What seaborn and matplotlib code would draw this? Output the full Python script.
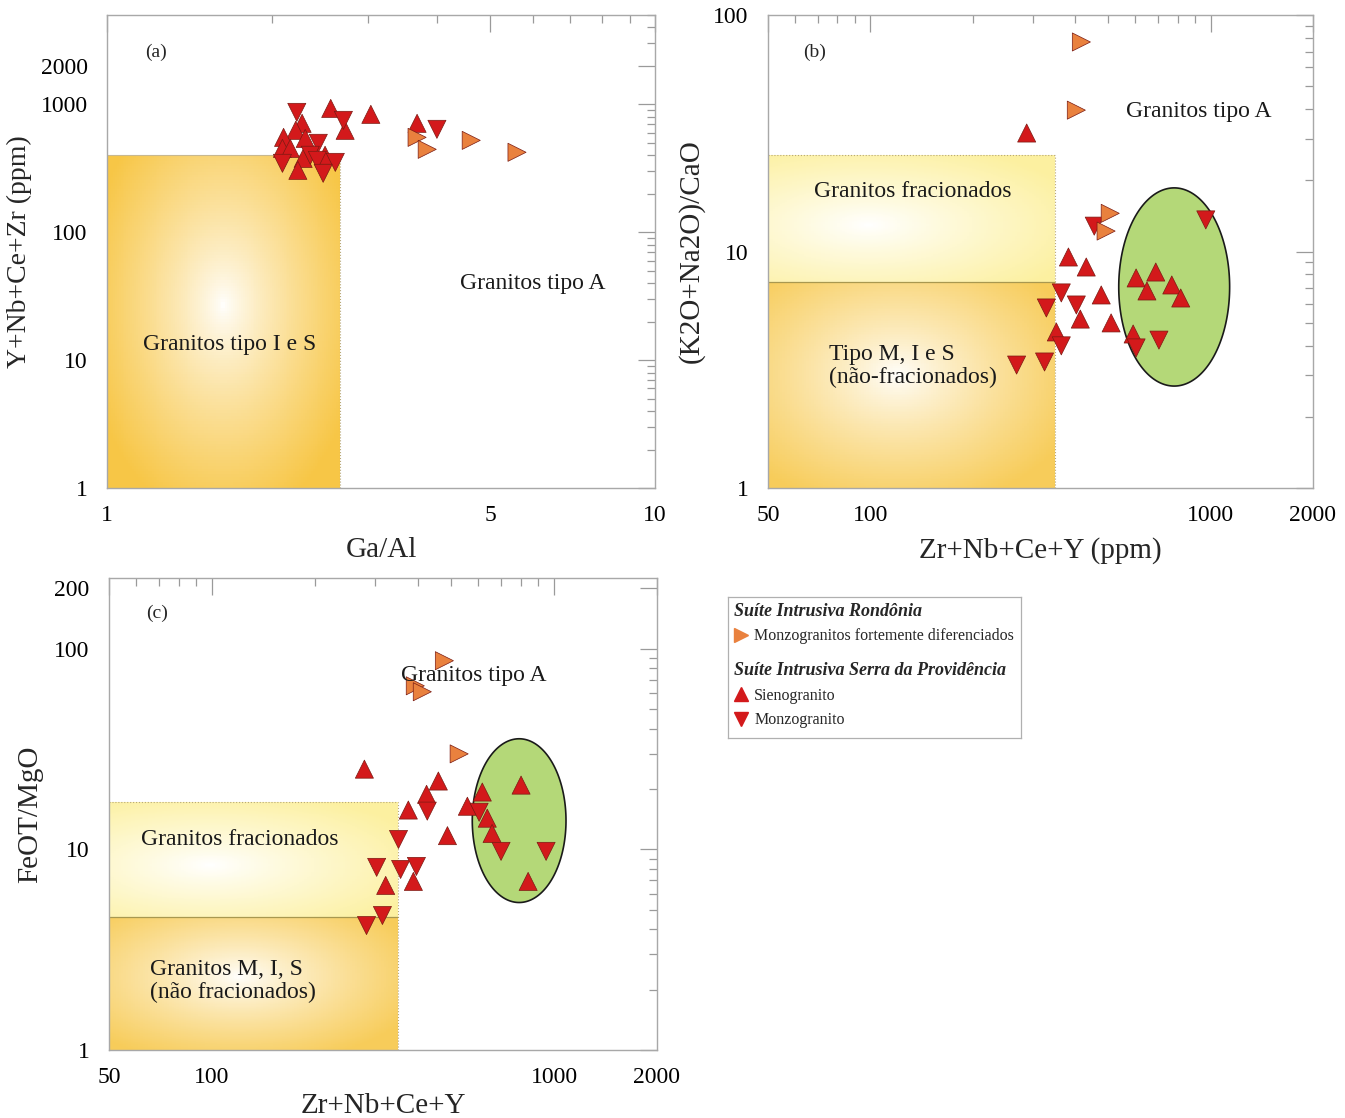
import numpy as np
import pandas as pd
import seaborn as sns
import matplotlib.pyplot as plt
from matplotlib.lines import Line2D
from matplotlib.ticker import FixedLocator, LogLocator, NullFormatter

# ---- dados ----
# (a) Ga/Al x Y+Nb+Ce+Zr
a_sieno_x = [2.56, 2.72, 3.03, 3.68, 2.27, 2.21, 2.30, 2.10, 2.09, 2.16, 2.28, 2.23, 2.50]
a_sieno_y = [930, 627, 836, 711, 711, 627, 542, 552, 453, 453, 378, 305, 400]
a_monzo_x = [2.22, 2.70, 4.00, 2.43, 2.09, 2.35, 2.42, 2.61, 2.48]
a_monzo_y = [866, 750, 638, 496, 346, 400, 365, 352, 289]
a_dif_x = [3.68, 3.84, 4.62, 5.60]
a_dif_y = [552, 445, 523, 422]

# (b) Zr+Nb+Ce+Y x (K2O+Na2O)/CaO
b_sieno_x = [288, 382, 431, 477, 414, 510, 352, 604, 690, 650, 769, 817, 592]
b_sieno_y = [31.7, 9.48, 8.60, 6.55, 5.18, 4.99, 4.57, 7.73, 8.19, 6.81, 7.22, 6.36, 4.48]
b_monzo_x = [968, 455, 364, 329, 403, 364, 269, 325, 604, 705]
b_monzo_y = [13.6, 12.8, 6.68, 5.77, 5.94, 3.99, 3.31, 3.41, 3.91, 4.22]
b_dif_x = [417, 403, 507, 493]
b_dif_y = [76.9, 39.6, 14.5, 12.2]

# (c) Zr+Nb+Ce+Y x FeOT/MgO
c_sieno_x = [279, 459, 424, 375, 617, 801, 558, 638, 659, 488, 388, 322, 840]
c_sieno_y = [25.1, 21.9, 18.8, 15.7, 19.3, 20.9, 16.4, 14.3, 12.0, 11.7, 6.92, 6.61, 6.92]
c_monzo_x = [426, 604, 351, 700, 948, 303, 356, 396, 315, 283]
c_monzo_y = [15.5, 15.3, 11.2, 9.77, 9.77, 8.13, 7.94, 8.22, 4.68, 4.17]
c_dif_x = [478, 393, 412, 528]
c_dif_y = [87.1, 65.3, 61.0, 29.9]

# limites dos campos
a_lim_x, a_lim_y = 2.66, 400
b_lim_x, b_fg_y, b_ois_y = 350, 25.6, 7.43
c_lim_x, c_fg_y, c_ois_y = 350, 17.2, 4.62

# elipses (centro e semi-eixos em log10)
b_elip = (2.893, 0.85, 0.163, 0.419)
c_elip = (2.898, 1.143, 0.137, 0.408)

SIENO = 'Sienogranito'
MONZO = 'Monzogranito'
DIF = 'Monzogranitos fortemente diferenciados'
RED = '#D3191B'
ORANGE = '#E9813E'
MARKERS = {SIENO: '^', MONZO: 'v', DIF: '>'}
PALETTE = {SIENO: RED, MONZO: RED, DIF: ORANGE}

sns.set_theme(style='white')
plt.rcParams['font.family'] = ['Liberation Serif', 'DejaVu Serif']

fig = plt.figure(figsize=(13.45, 11.18), dpi=100)
W, H = 1345, 1118


def px_axes(l, r, t, b):
    return fig.add_axes([l / W, 1 - b / H, (r - l) / W, (b - t) / H])


ax_a = px_axes(107, 655, 15, 488)
ax_b = px_axes(768, 1313, 15, 488)
ax_c = px_axes(109, 657, 578, 1050)


def frame(sx, sy, mx, my, dx, dy):
    parts = [pd.DataFrame({'x': sx, 'y': sy, 'grupo': SIENO}),
             pd.DataFrame({'x': mx, 'y': my, 'grupo': MONZO}),
             pd.DataFrame({'x': dx, 'y': dy, 'grupo': DIF})]
    return pd.concat(parts, ignore_index=True)


def grad_box(ax, x0, x1, y0, y1, edge, cx=0.5, cy=0.5, gamma=1.0, n=120):
    # caixa com degradê radial (branco no centro)
    xe = np.geomspace(x0, x1, n + 1)
    ye = np.geomspace(y0, y1, n + 1)
    u = (np.arange(n) + 0.5) / n
    U, V = np.meshgrid(u, u)
    r = np.sqrt(((U - cx) / max(cx, 1 - cx)) ** 2 + ((V - cy) / max(cy, 1 - cy)) ** 2)
    r = np.clip(r / 1.2, 0, 1) ** gamma
    edge = np.array(edge) / 255.0
    img = (1 - r)[..., None] * np.ones(3) + r[..., None] * edge
    ax.pcolormesh(xe, ye, img, shading='flat', zorder=0, rasterized=True)


def ellipse(ax, e):
    cx, cy, rx, ry = e
    t = np.linspace(0, 2 * np.pi, 300)
    ax.fill(10 ** (cx + rx * np.cos(t)), 10 ** (cy + ry * np.sin(t)),
            facecolor='#B4D878', edgecolor='#1a1a1a', linewidth=1.2, zorder=1)


def style_axis(ax, xlim, ylim, xt, yt):
    ax.set_xscale('log')
    ax.set_yscale('log')
    ax.set_xlim(*xlim)
    ax.set_ylim(*ylim)
    ax.xaxis.set_major_locator(FixedLocator(xt))
    ax.yaxis.set_major_locator(FixedLocator(yt))
    ax.set_xticklabels([str(v) for v in xt])
    ax.set_yticklabels([str(v) for v in yt])
    for axis in (ax.xaxis, ax.yaxis):
        axis.set_minor_locator(LogLocator(base=10, subs=np.arange(2, 10)))
        axis.set_minor_formatter(NullFormatter())
    ax.tick_params(which='both', direction='in', top=True, right=True,
                   color='#9a9a9a', width=0.9, labelsize=17, labelcolor='black')
    ax.tick_params(which='major', length=12)
    ax.tick_params(which='minor', length=6)
    ax.tick_params(axis='x', pad=12)
    ax.tick_params(axis='y', pad=14)
    for s in ax.spines.values():
        s.set_color('#a8a8a8')
        s.set_linewidth(1.0)
    ax.grid(False)


def points(ax, df):
    sns.scatterplot(data=df, x='x', y='y', hue='grupo', style='grupo',
                    markers=MARKERS, palette=PALETTE, s=170,
                    edgecolor='#7a1a12', linewidth=0.5, legend=False,
                    ax=ax, zorder=3)


txt = dict(fontsize=17, color='#1a1a1a')

# ---- (a) ----
grad_box(ax_a, 1, a_lim_x, 1, a_lim_y, (247, 198, 70), cx=0.5, cy=0.55, gamma=0.8)
ax_a.vlines(a_lim_x, 1, a_lim_y, colors='#b8a878', linestyles=':', linewidth=0.8, zorder=1)
ax_a.hlines(a_lim_y, 1, a_lim_x, colors='#c8b890', linewidth=0.8, zorder=1)
points(ax_a, frame(a_sieno_x, a_sieno_y, a_monzo_x, a_monzo_y, a_dif_x, a_dif_y))
style_axis(ax_a, (1, 10), (1, 5000), [1, 5, 10], [1, 10, 100, 1000, 2000])
ax_a.set_xlabel('Ga/Al', fontsize=21, labelpad=8)
ax_a.set_ylabel('Y+Nb+Ce+Zr (ppm)', fontsize=20, labelpad=6)
ax_a.text(0.069, 0.922, '(a)', transform=ax_a.transAxes, fontsize=14, va='center')
ax_a.text(0.777, 0.433, 'Granitos tipo A', transform=ax_a.transAxes, ha='center', va='center', **txt)
ax_a.text(0.223, 0.304, 'Granitos tipo I e S', transform=ax_a.transAxes, ha='center', va='center', **txt)

# ---- (b) ----
grad_box(ax_b, 50, b_lim_x, b_ois_y, b_fg_y, (252, 240, 160), cx=0.35, cy=0.45, gamma=0.9)
grad_box(ax_b, 50, b_lim_x, 1, b_ois_y, (247, 204, 90), cx=0.45, cy=0.55, gamma=0.8)
ax_b.vlines(b_lim_x, 1, b_fg_y, colors='#b8a878', linestyles=':', linewidth=0.8, zorder=1)
ax_b.hlines(b_fg_y, 50, b_lim_x, colors='#b8a878', linestyles=':', linewidth=0.8, zorder=1)
ax_b.hlines(b_ois_y, 50, b_lim_x, colors='#a89850', linewidth=0.9, zorder=1)
ellipse(ax_b, b_elip)
points(ax_b, frame(b_sieno_x, b_sieno_y, b_monzo_x, b_monzo_y, b_dif_x, b_dif_y))
style_axis(ax_b, (50, 2000), (1, 100), [50, 100, 1000, 2000], [1, 10, 100])
ax_b.set_xlabel('Zr+Nb+Ce+Y (ppm)', fontsize=21, labelpad=8)
ax_b.set_ylabel('(K2O+Na2O)/CaO', fontsize=21, labelpad=6)
ax_b.text(0.064, 0.92, '(b)', transform=ax_b.transAxes, fontsize=14, va='center')
ax_b.text(0.791, 0.795, 'Granitos tipo A', transform=ax_b.transAxes, ha='center', va='center', **txt)
ax_b.text(0.266, 0.626, 'Granitos fracionados', transform=ax_b.transAxes, ha='center', va='center', **txt)
ax_b.text(0.112, 0.258, 'Tipo M, I e S\n(não-fracionados)', transform=ax_b.transAxes,
          ha='left', va='center', linespacing=1.1, **txt)

# ---- (c) ----
grad_box(ax_c, 50, c_lim_x, c_ois_y, c_fg_y, (252, 240, 160), cx=0.35, cy=0.45, gamma=0.9)
grad_box(ax_c, 50, c_lim_x, 1, c_ois_y, (247, 204, 90), cx=0.45, cy=0.55, gamma=0.8)
ax_c.vlines(c_lim_x, 1, c_fg_y, colors='#b8a878', linestyles=':', linewidth=0.8, zorder=1)
ax_c.hlines(c_fg_y, 50, c_lim_x, colors='#b8a878', linestyles=':', linewidth=0.8, zorder=1)
ax_c.hlines(c_ois_y, 50, c_lim_x, colors='#a89850', linewidth=0.9, zorder=1)
ellipse(ax_c, c_elip)
points(ax_c, frame(c_sieno_x, c_sieno_y, c_monzo_x, c_monzo_y, c_dif_x, c_dif_y))
style_axis(ax_c, (50, 2000), (1, 225), [50, 100, 1000, 2000], [1, 10, 100, 200])
ax_c.set_xlabel('Zr+Nb+Ce+Y', fontsize=21, labelpad=4)
ax_c.set_ylabel('FeOT/MgO', fontsize=21, labelpad=8)
ax_c.text(0.0675, 0.926, '(c)', transform=ax_c.transAxes, fontsize=14, va='center')
ax_c.text(0.666, 0.794, 'Granitos tipo A', transform=ax_c.transAxes, ha='center', va='center', **txt)
ax_c.text(0.239, 0.447, 'Granitos fracionados', transform=ax_c.transAxes, ha='center', va='center', **txt)
ax_c.text(0.075, 0.146, 'Granitos M, I, S\n(não fracionados)', transform=ax_c.transAxes,
          ha='left', va='center', linespacing=1.1, **txt)

# ---- legenda ----
ax_l = px_axes(728, 1021, 597, 738)
ax_l.set_xticks([])
ax_l.set_yticks([])
for s in ax_l.spines.values():
    s.set_color('#b0b0b0')
    s.set_linewidth(0.9)

h_dif = Line2D([], [], marker='>', color=ORANGE, linestyle='none', markersize=10)
h_sie = Line2D([], [], marker='^', color=RED, linestyle='none', markersize=10)
h_mon = Line2D([], [], marker='v', color=RED, linestyle='none', markersize=10)
title_font = dict(size=13, weight='bold', style='italic')
common = dict(frameon=False, alignment='left', fontsize=11.5, handlelength=0.9,
              handletextpad=0.4, borderpad=0.1, borderaxespad=0.25, labelspacing=0.55,
              title_fontproperties=title_font)
leg1 = ax_l.legend([h_dif], [DIF], title='Suíte Intrusiva Rondônia', loc='upper left',
                   bbox_to_anchor=(0.0, 1.0), **common)
ax_l.add_artist(leg1)
ax_l.legend([h_sie, h_mon], [SIENO, MONZO], title='Suíte Intrusiva Serra da Providência',
            loc='upper left', bbox_to_anchor=(0.0, 0.58), **common)

fig.savefig('out.png', dpi=100)
